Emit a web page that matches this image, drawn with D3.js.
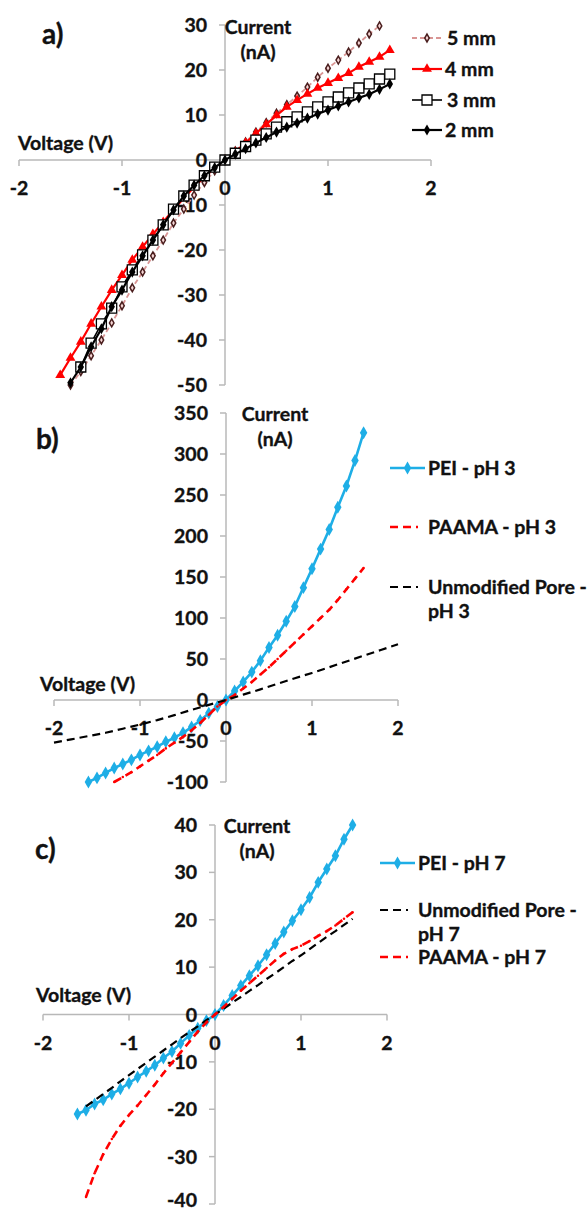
<!DOCTYPE html>
<html lang="en">
<head>
<meta charset="utf-8">
<title>I-V curves</title>
<script src="https://d3js.org/d3.v7.min.js"></script>
<style>
  body { margin: 0; background: #fff; }
  svg text { font-family: Lato, "Open Sans", sans-serif; font-weight: bold; fill: #111; stroke: #111; stroke-width: 0.35px; }
</style>
</head>
<body>
<svg id="chart" width="588" height="1212"></svg>
<script>
// ---- panel a: pore length series (V, nA) ----
const aV5 = [-1.5,-1.4,-1.3,-1.2,-1.1,-1.0,-0.9,-0.8,-0.7,-0.6,-0.5,-0.4,-0.3,-0.2,-0.1,0,0.1,0.2,0.3,0.4,0.5,0.6,0.7,0.8,0.9,1.0,1.1,1.2,1.3,1.4,1.5];
const aI5 = [-50,-47,-43.5,-40,-36.2,-32.4,-28.4,-24.9,-21.3,-17.8,-14,-10.9,-7.8,-5,-2.4,0,2,4,6.2,8.3,10.4,12.3,14.2,16.2,18.4,20.4,22.2,24,26,28,29.8];
const aV4 = [-1.6,-1.5,-1.4,-1.3,-1.2,-1.1,-1.0,-0.9,-0.8,-0.7,-0.6,-0.5,-0.4,-0.3,-0.2,-0.1,0,0.1,0.2,0.3,0.4,0.5,0.6,0.7,0.8,0.9,1.0,1.1,1.2,1.3,1.4,1.5,1.6];
const aI4 = [-47.8,-44,-40.4,-36.4,-32.6,-28.9,-25.6,-22.2,-19.3,-16.5,-13.8,-11,-8.5,-6,-3.8,-1.8,0,1.8,3.8,5.9,7.9,9.9,11.8,13.3,14.7,16,17.1,18.2,19.3,20.7,21.8,22.9,24.4];
const aV3 = [-1.4,-1.3,-1.2,-1.1,-1.0,-0.9,-0.8,-0.7,-0.6,-0.5,-0.4,-0.3,-0.2,-0.1,0,0.1,0.2,0.3,0.4,0.5,0.6,0.7,0.8,0.9,1.0,1.1,1.2,1.3,1.4,1.5,1.6];
const aI3 = [-46,-40.7,-36.4,-32.9,-28.2,-24.4,-21.1,-17.8,-14.4,-10.9,-8,-5.6,-3.5,-1.6,0,1.5,3,4.4,5.8,7.3,8.5,9.6,10.7,11.8,12.9,14,14.9,16,16.9,18,19.1];
const aV2 = [-1.5,-1.4,-1.3,-1.2,-1.1,-1.0,-0.9,-0.8,-0.7,-0.6,-0.5,-0.4,-0.3,-0.2,-0.1,0,0.1,0.2,0.3,0.4,0.5,0.6,0.7,0.8,0.9,1.0,1.1,1.2,1.3,1.4,1.5,1.6];
const aI2 = [-49.5,-46,-41.5,-37.5,-32.6,-28.9,-24.9,-21.3,-17.8,-14.4,-11.1,-8,-5.6,-3.5,-1.7,0,1.3,2.5,3.8,5,6.2,7.3,8.2,9.3,10.2,11.1,12,12.9,13.8,14.6,15.7,16.9];

// ---- panel b: pH 3 ----
const bVpei = [-1.6,-1.5,-1.4,-1.3,-1.2,-1.1,-1.0,-0.9,-0.8,-0.7,-0.6,-0.5,-0.4,-0.3,-0.2,-0.1,0,0.1,0.2,0.3,0.4,0.5,0.6,0.7,0.8,0.9,1.0,1.1,1.2,1.3,1.4,1.5,1.6];
const bIpei = [-100,-95,-89,-83,-78,-73,-67,-62,-57,-51,-46,-40,-33,-25,-16,-8,0,11,22,34,48,64,79,96,114,137,160,184,208,235,261,292,326];
const bVpaama = [-1.3,-1.2,-1.1,-1.0,-0.9,-0.8,-0.7,-0.6,-0.5,-0.4,-0.3,-0.2,-0.1,0,0.1,0.2,0.3,0.4,0.5,0.6,0.7,0.8,0.9,1.0,1.1,1.2,1.3,1.4,1.5,1.6];
const bIpaama = [-100,-94,-88,-81,-74,-67,-59,-52,-45,-37,-28,-18,-8,0,6,14,22,31,40,50,60,70,80,90,100,110,122,135,148,161];
const bVun = [-2,-1.8,-1.6,-1.4,-1.2,-1,-0.8,-0.6,-0.4,-0.2,0,0.2,0.4,0.6,0.8,1,1.2,1.4,1.6,1.8,2];
const bIun = [-52,-48,-44,-40,-35,-30,-24.5,-18.5,-12,-6,0,6.5,13,19.8,26.5,33,40,47,54,61,68];

// ---- panel c: pH 7 ----
const cVpei = [-1.6,-1.5,-1.4,-1.3,-1.2,-1.1,-1.0,-0.9,-0.8,-0.7,-0.6,-0.5,-0.4,-0.3,-0.2,-0.1,0,0.1,0.2,0.3,0.4,0.5,0.6,0.7,0.8,0.9,1.0,1.1,1.2,1.3,1.4,1.5,1.6];
const cIpei = [-21,-20.2,-18.9,-18,-16.8,-15.7,-14.5,-13.2,-12,-10.7,-9.2,-7.8,-6.1,-4.4,-2.9,-1.3,0,1.9,4,6.1,8.2,10.3,12.6,15,17.4,19.8,22.1,24.7,27.9,30.7,33.5,37,40];
const cVun = [-1.5,-1.4,-1.3,-1.2,-1.1,-1.0,-0.9,-0.8,-0.7,-0.6,-0.5,-0.4,-0.3,-0.2,-0.1,0,0.1,0.2,0.3,0.4,0.5,0.6,0.7,0.8,0.9,1.0,1.1,1.2,1.3,1.4,1.5,1.6];
const cIun = [-19.4,-18.1,-16.8,-15.5,-14.1,-12.8,-11.5,-10.2,-8.9,-7.6,-6.3,-5,-3.7,-2.5,-1.2,0,1.2,2.5,3.7,5,6.2,7.5,8.7,10,11.3,12.5,13.8,15.1,16.4,17.6,18.9,20.2];
const cVpaama = [-1.5,-1.4,-1.3,-1.2,-1.1,-1.0,-0.9,-0.8,-0.7,-0.6,-0.5,-0.4,-0.3,-0.2,-0.1,0,0.1,0.2,0.3,0.4,0.5,0.6,0.7,0.8,0.9,1.0,1.1,1.2,1.3,1.4,1.5,1.6];
const cIpaama = [-38.5,-33.5,-29.5,-26.3,-23.5,-21.2,-19.2,-17,-14.8,-12.4,-10.2,-8,-5.8,-3.6,-1.7,0,1.6,3.3,5,6.6,8.2,9.8,11.4,12.8,13.8,14.5,15.5,16.6,17.6,18.8,20.2,21.6];

const xTicks = [-2, -1, 0, 1, 2];
const aYTicks = [-50, -40, -30, -20, -10, 0, 10, 20, 30];
const bYTicks = [-100, -50, 0, 50, 100, 150, 200, 250, 300, 350];
const cYTicks = [-40, -30, -20, -10, 0, 10, 20, 30, 40];

const svg = d3.select("#chart");
svg.append("rect").attr("width", 588).attr("height", 1212).attr("fill", "#fff");

const zip = (v, i) => v.map((d, k) => ({ v: d, i: i[k] }));
const fs = "19.5px";

// styles for each series
const st = {
  mm5: { color: "#d99594", width: 1.8, dash: "5,3", sym: d3.symbolDiamond, size: 18, fill: "#f6d6d5", mstroke: "#4a1e1e", mw: 1.5 },
  mm4: { color: "#ff0000", width: 2.2, dash: null, sym: d3.symbolTriangle, size: 42, fill: "#ff0000", mstroke: "#ff0000", mw: 0 },
  mm3: { color: "#000", width: 1.6, dash: null, sym: d3.symbolSquare, size: 100, fill: "#fff", mstroke: "#000", mw: 1.3 },
  mm2: { color: "#000", width: 2.2, dash: null, sym: d3.symbolDiamond, size: 36, fill: "#000", mstroke: "#000", mw: 0 },
  pei: { color: "#1eaee6", width: 2.6, dash: null, sym: d3.symbolDiamond, size: 48, fill: "#1eaee6", mstroke: "#1eaee6", mw: 0 },
  paama: { color: "#ff0000", width: 2.6, dash: "8,5", sym: d3.symbolCircle, size: 5, fill: "#ff0000", mstroke: "#ff0000", mw: 0 },
  unmod: { color: "#000", width: 2.2, dash: "8,5", sym: null }
};

function drawPanel(p) {
  const x = d3.scaleLinear().domain([-2, 2]).range(p.xr);
  const y = d3.scaleLinear().domain(p.yd).range(p.yr);
  const g = svg.append("g");
  const x0 = x(0), y0 = y(0);

  // axes
  const axisCol = "#b8b8b8";
  g.append("line").attr("x1", x(-2)).attr("x2", x(2)).attr("y1", y0).attr("y2", y0)
    .attr("stroke", axisCol).attr("stroke-width", 1.5);
  g.append("line").attr("x1", x0).attr("x2", x0).attr("y1", y(p.yd[0])).attr("y2", y(p.yd[1]))
    .attr("stroke", axisCol).attr("stroke-width", 1.5);
  xTicks.forEach(t => {
    g.append("line").attr("x1", x(t)).attr("x2", x(t)).attr("y1", y0).attr("y2", y0 + 6)
      .attr("stroke", axisCol).attr("stroke-width", 1.5);
    g.append("text").attr("x", x(t)).attr("y", y0 + 28).attr("dy", "0.36em")
      .attr("text-anchor", "middle").style("font-size", fs).text(t);
  });
  p.yTicks.forEach(t => {
    g.append("line").attr("x1", x0 - 6).attr("x2", x0).attr("y1", y(t)).attr("y2", y(t))
      .attr("stroke", axisCol).attr("stroke-width", 1.5);
    g.append("text").attr("x", x0 - 18).attr("y", Math.min(y(t), 1200)).attr("dy", "0.36em")
      .attr("text-anchor", "end").style("font-size", fs).text(t);
  });

  // titles
  g.append("text").attr("x", p.letter[0]).attr("y", p.letter[1]).style("font-size", "28px").text(p.name);
  g.append("text").attr("x", p.cur[0]).attr("y", p.cur[1]).attr("text-anchor", "middle")
    .style("font-size", fs).text("Current");
  g.append("text").attr("x", p.cur[0]).attr("y", p.cur[1] + 25).attr("text-anchor", "middle")
    .style("font-size", fs).text("(nA)");
  g.append("text").attr("x", p.volt[0]).attr("y", p.volt[1]).style("font-size", fs).text("Voltage (V)");

  // series
  const line = d3.line().x(d => x(d.v)).y(d => y(d.i));
  p.series.forEach(s => {
    const sty = st[s.style];
    const pts = zip(s.v, s.i);
    g.append("path").datum(pts).attr("d", line).attr("fill", "none")
      .attr("stroke", sty.color).attr("stroke-width", sty.width)
      .attr("stroke-dasharray", sty.dash).attr("stroke-linejoin", "round");
    if (sty.sym) {
      const sym = d3.symbol().type(sty.sym).size(sty.size);
      g.selectAll(null).data(pts).join("path")
        .attr("transform", d => `translate(${x(d.v)},${y(d.i)})`)
        .attr("d", sym).attr("fill", sty.fill)
        .attr("stroke", sty.mw ? sty.mstroke : "none").attr("stroke-width", sty.mw);
    }
  });

  // legend
  p.legend.forEach(l => {
    const sty = st[l.style];
    g.append("line").attr("x1", l.x1).attr("x2", l.x2).attr("y1", l.y).attr("y2", l.y)
      .attr("stroke", sty.color).attr("stroke-width", sty.width).attr("stroke-dasharray", sty.dash);
    if (sty.sym && l.style !== "paama") {
      g.append("path").attr("transform", `translate(${(l.x1 + l.x2) / 2},${l.y})`)
        .attr("d", d3.symbol().type(sty.sym).size(sty.size)).attr("fill", sty.fill)
        .attr("stroke", sty.mw ? sty.mstroke : "none").attr("stroke-width", sty.mw);
    }
    l.text.forEach((t, k) => {
      g.append("text").attr("x", l.tx).attr("y", l.y + k * 24).attr("dy", "0.36em")
        .style("font-size", fs).text(t);
    });
  });
}

drawPanel({
  name: "a)", letter: [42, 44], cur: [258, 34], volt: [18, 150],
  xr: [19, 431], yd: [-50, 30], yr: [385, 25], yTicks: aYTicks,
  series: [
    { v: aV5, i: aI5, style: "mm5" },
    { v: aV4, i: aI4, style: "mm4" },
    { v: aV3, i: aI3, style: "mm3" },
    { v: aV2, i: aI2, style: "mm2" }
  ],
  legend: [
    { style: "mm5", x1: 412, x2: 442, y: 38, tx: 447, text: ["5 mm"] },
    { style: "mm4", x1: 412, x2: 442, y: 69, tx: 445, text: ["4 mm"] },
    { style: "mm3", x1: 412, x2: 442, y: 100, tx: 447, text: ["3 mm"] },
    { style: "mm2", x1: 412, x2: 442, y: 130, tx: 445, text: ["2 mm"] }
  ]
});

drawPanel({
  name: "b)", letter: [36, 449], cur: [275, 421], volt: [40, 691],
  xr: [54, 398], yd: [-100, 350], yr: [782, 413], yTicks: bYTicks,
  series: [
    { v: bVpei, i: bIpei, style: "pei" },
    { v: bVpaama, i: bIpaama, style: "paama" },
    { v: bVun, i: bIun, style: "unmod" }
  ],
  legend: [
    { style: "pei", x1: 390, x2: 425, y: 468, tx: 428, text: ["PEI - pH 3"] },
    { style: "paama", x1: 390, x2: 418, y: 527, tx: 428, text: ["PAAMA - pH 3"] },
    { style: "unmod", x1: 390, x2: 418, y: 587, tx: 428, text: ["Unmodified Pore -", "pH 3"] }
  ]
});

drawPanel({
  name: "c)", letter: [35, 859], cur: [257, 833], volt: [36, 1002],
  xr: [43, 387], yd: [-40, 40], yr: [1204, 825], yTicks: cYTicks,
  series: [
    { v: cVpei, i: cIpei, style: "pei" },
    { v: cVun, i: cIun, style: "unmod" },
    { v: cVpaama, i: cIpaama, style: "paama" }
  ],
  legend: [
    { style: "pei", x1: 380, x2: 415, y: 863, tx: 418, text: ["PEI - pH 7"] },
    { style: "unmod", x1: 380, x2: 408, y: 910, tx: 418, text: ["Unmodified Pore -", "pH 7"] },
    { style: "paama", x1: 380, x2: 408, y: 957, tx: 418, text: ["PAAMA - pH 7"] }
  ]
});
</script>
</body>
</html>
